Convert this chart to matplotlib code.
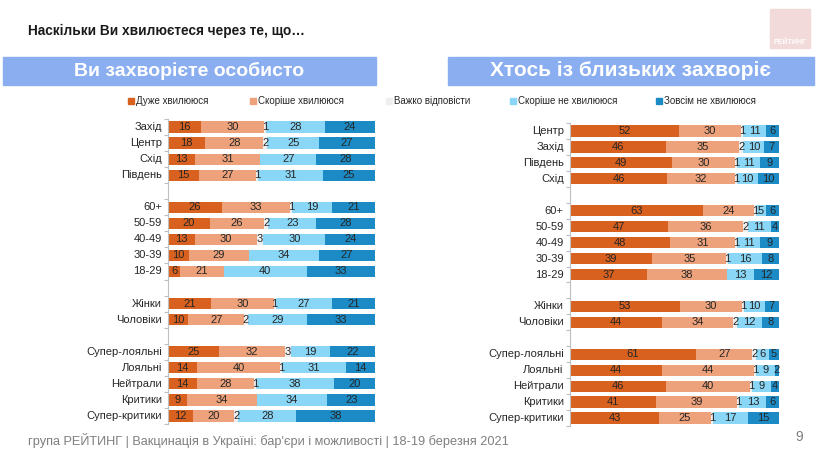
import matplotlib
matplotlib.use('Agg')
import matplotlib.pyplot as plt
from matplotlib.patches import Rectangle
import numpy as np

plt.rcParams['font.family'] = ['Liberation Sans', 'DejaVu Sans']

series = ['Дуже хвилююся', 'Скоріше хвилююся', 'Важко відповісти',
          'Скоріше не хвилююся', 'Зовсім не хвилююся']
colors = ['#D9611F', '#EDA27C', '#EFEFEF', '#8AD6F6', '#1C8BC5']

# None marks the empty slot between groups
left_cats = ['Захід', 'Центр', 'Схід', 'Південь', None,
             '60+', '50-59', '40-49', '30-39', '18-29', None,
             'Жінки', 'Чоловіки', None,
             'Супер-лояльні', 'Лояльні', 'Нейтрали', 'Критики', 'Супер-критики']
left_vals = [
    [16, 30, 1, 28, 24], [18, 28, 2, 25, 27], [13, 31, 0, 27, 28], [15, 27, 1, 31, 25], None,
    [26, 33, 1, 19, 21], [20, 26, 2, 23, 28], [13, 30, 3, 30, 24], [10, 29, 0, 34, 27],
    [6, 21, 0, 40, 33], None,
    [21, 30, 1, 27, 21], [10, 27, 2, 29, 33], None,
    [25, 32, 3, 19, 22], [14, 40, 1, 31, 14], [14, 28, 1, 38, 20], [9, 34, 0, 34, 23],
    [12, 20, 2, 28, 38],
]

right_cats = ['Центр', 'Захід', 'Південь', 'Схід', None,
              '60+', '50-59', '40-49', '30-39', '18-29', None,
              'Жінки', 'Чоловіки', None,
              'Супер-лояльні', 'Лояльні', 'Нейтрали', 'Критики', 'Супер-критики']
right_vals = [
    [52, 30, 1, 11, 6], [46, 35, 2, 10, 7], [49, 30, 1, 11, 9], [46, 32, 1, 10, 10], None,
    [63, 24, 1, 5, 6], [47, 36, 2, 11, 4], [48, 31, 1, 11, 9], [39, 35, 1, 16, 8],
    [37, 38, 0, 13, 12], None,
    [53, 30, 1, 10, 7], [44, 34, 2, 12, 8], None,
    [61, 27, 2, 6, 5], [44, 44, 1, 9, 2], [46, 40, 1, 9, 4], [41, 39, 1, 13, 6],
    [43, 25, 1, 17, 15],
]

W, H = 826, 454
fig = plt.figure(figsize=(W / 100, H / 100), dpi=100)


def fx(px):
    return px / W


def fy(py):
    return 1 - py / H


def draw_panel(ax, cats, vals):
    n = len(cats)
    for i, (c, v) in enumerate(zip(cats, vals)):
        if v is None:
            continue
        tot = float(sum(v))
        left = 0.0
        for k, val in enumerate(v):
            w = val / tot * 100
            if val > 0:
                ax.barh(i, w, left=left, height=0.7, color=colors[k], linewidth=0)
                ax.text(left + w / 2, i, str(val), ha='center', va='center',
                        fontsize=8, color='#262626')
            left += w
        ax.text(-3, i, c, ha='right', va='center', fontsize=8, color='#262626',
                clip_on=False)
    ax.set_xlim(0, 100)
    ax.set_ylim(n - 0.5, -0.5)
    for s in ['top', 'right', 'bottom']:
        ax.spines[s].set_visible(False)
    ax.spines['left'].set_color('#BFBFBF')
    ax.set_xticks([])
    ax.set_yticks(np.arange(-0.5, n, 1.0))
    ax.set_yticklabels([])
    ax.tick_params(axis='y', length=3, color='#BFBFBF')


ax1 = fig.add_axes([fx(168), fy(424), fx(375 - 168), fy(119) - fy(424)])
draw_panel(ax1, left_cats, left_vals)
ax2 = fig.add_axes([fx(570), fy(426), fx(779 - 570), fy(123) - fy(426)])
draw_panel(ax2, right_cats, right_vals)

# title
fig.text(fx(28), fy(31), 'Наскільки Ви хвилюєтеся через те, що…', fontsize=9.8,
         fontweight='bold', color='#1a1a1a', va='center')

# logo
fig.patches.append(Rectangle((fx(770), fy(48)), fx(40), fy(9) - fy(48),
                             transform=fig.transFigure, color='#F3DADA'))
fig.text(fx(790), fy(43), 'РЕЙТИНГ', fontsize=5, color='white', fontweight='bold',
         ha='center', va='center')

# header bands
for x0, x1, label, fs in [(3, 376, 'Ви захворієте особисто', 14),
                          (448, 814, 'Хтось із близьких захворіє', 15)]:
    fig.patches.append(Rectangle((fx(x0), fy(85)), fx(x1 - x0), fy(57) - fy(85),
                                 transform=fig.transFigure, color='#8AAEF0'))
    fig.text(fx((x0 + x1) / 2), fy(71), label, fontsize=fs, fontweight='bold',
             color='white', ha='center', va='center')

# legend
leg_x = [128, 250, 386, 510, 656]
for x, lab, c in zip(leg_x, series, colors):
    fig.patches.append(Rectangle((fx(x), fy(104)), fx(6), fy(98) - fy(104),
                                 transform=fig.transFigure, color=c))
    fig.text(fx(x + 8), fy(101), lab, fontsize=7, color='#262626', va='center')

# footer
fig.text(fx(28), fy(441), "група РЕЙТИНГ | Вакцинація в Україні: бар'єри і можливості | 18-19 березня 2021",
         fontsize=9.2, color='#7F7F7F', va='center')
fig.text(fx(803), fy(437), '9', fontsize=10, color='#7F7F7F', va='center', ha='right')

fig.savefig('out.png', dpi=100)
